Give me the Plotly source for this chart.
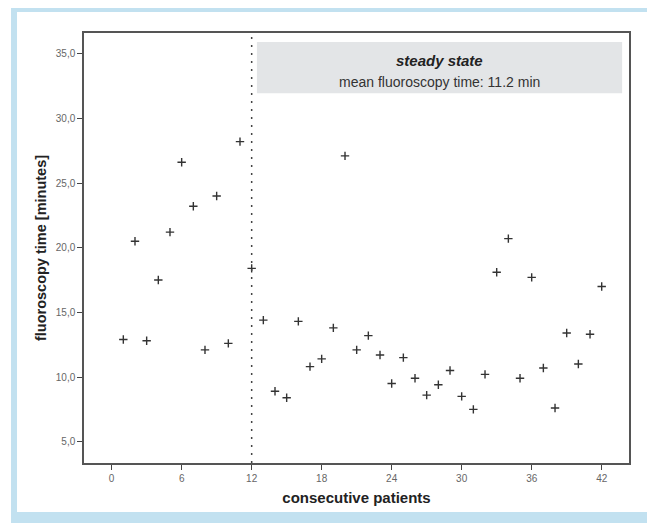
import plotly.graph_objects as go

patients = list(range(1, 43))
fluoro_time = [12.9, 20.5, 12.8, 17.5, 21.2, 26.6, 23.2, 12.1, 24.0, 12.6,
               28.2, 18.4, 14.4, 8.9, 8.4, 14.3, 10.8, 11.4, 13.8, 27.1,
               12.1, 13.2, 11.7, 9.5, 11.5, 9.9, 8.6, 9.4, 10.5, 8.5,
               7.5, 10.2, 18.1, 20.7, 9.9, 17.7, 10.7, 7.6, 13.4, 11.0,
               13.3, 17.0]
x_ticks = [0, 6, 12, 18, 24, 30, 36, 42]
y_ticks = [5, 10, 15, 20, 25, 30, 35]
learning_end = 12
box_title = "steady state"
box_text = "mean fluoroscopy time: 11.2 min"

fig = go.Figure()
fig.add_trace(go.Scatter(
    x=patients, y=fluoro_time, mode="markers",
    marker=dict(symbol="cross-thin", size=6, color="#333",
                line=dict(color="#333", width=1.4)),
    showlegend=False, hoverinfo="x+y"))

font = "Liberation Sans, Arial, sans-serif"
shapes = [
    dict(type="rect", xref="paper", yref="paper", x0=-0.1339, x1=1.0477,
         y0=-0.1395, y1=1.0651, fillcolor="#c2e1f0", line=dict(width=0), layer="below"),
    dict(type="rect", xref="paper", yref="paper", x0=-0.1229, x1=1.0349,
         y0=-0.114, y1=1.0488, fillcolor="white", line=dict(width=0), layer="below"),
    dict(type="rect", xref="x", yref="y", x0=12.45, x1=43.75, y0=31.95, y1=35.9,
         fillcolor="#e3e5e7", line=dict(width=0), layer="below"),
    dict(type="line", xref="x", yref="paper", x0=learning_end, x1=learning_end,
         y0=0, y1=1, line=dict(color="#444", width=1.5, dash="2px,6px")),
]

fig.update_layout(
    width=647, height=515,
    margin=dict(l=76, r=26, t=25, b=60, autoexpand=False),
    paper_bgcolor="white", plot_bgcolor="rgba(0,0,0,0)",
    separators=",.",
    font=dict(family=font, color="#333"),
    shapes=shapes,
    annotations=[
        dict(x=28.1, y=34.5, xref="x", yref="y", text="<b><i>" + box_title + "</i></b>",
             showarrow=False, font=dict(size=15, color="#222", family=font)),
        dict(x=28.1, y=32.8, xref="x", yref="y", text=box_text,
             showarrow=False, font=dict(size=14, color="#333", family=font)),
    ],
)
fig.update_xaxes(
    range=[-2.37, 44.34], tickvals=x_ticks, ticks="outside", ticklen=5,
    tickwidth=1.3, tickcolor="#444", showgrid=False, zeroline=False,
    showline=True, linecolor="#555", linewidth=1.5, mirror=True, automargin=False,
    tickfont=dict(size=10, color="#666"),
    title=dict(text="<b>consecutive patients</b>", font=dict(size=15, color="#222"),
               standoff=10))
fig.update_yaxes(
    range=[3.35, 36.6], tickvals=y_ticks, tickformat=".1f", ticks="outside",
    ticklen=5, tickwidth=1.3, tickcolor="#444", showgrid=False, zeroline=False,
    showline=True, linecolor="#555", linewidth=1.5, mirror=True, automargin=False,
    tickfont=dict(size=10, color="#666"),
    title=dict(text="<b>fluoroscopy time [minutes]</b>", font=dict(size=14.5, color="#222"),
               standoff=6))

fig.write_html("out.html")
